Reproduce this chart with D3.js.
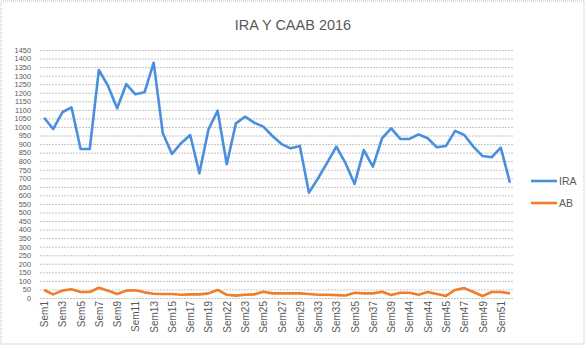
<!DOCTYPE html>
<html>
<head>
<meta charset="utf-8">
<script src="https://cdn.jsdelivr.net/npm/d3@7"></script>
<style>
  body { margin: 0; background: #fff; }
  text { font-family: "Liberation Sans", Arial, sans-serif; fill: #595959; }
</style>
</head>
<body>
<div id="chart"></div>
<script>
// weeks shown on the axis (every other one is labelled)
var weeks = ["Sem1","Sem2","Sem3","Sem4","Sem5","Sem6","Sem7","Sem8","Sem9","Sem10",
  "Sem11","Sem12","Sem13","Sem14","Sem15","Sem16","Sem17","Sem18","Sem19","Sem21",
  "Sem22","Sem22","Sem23","Sem24","Sem25","Sem26","Sem27","Sem28","Sem29","Sem30",
  "Sem33","Sem33","Sem33","Sem34","Sem35","Sem36","Sem37","Sem38","Sem39","Sem40",
  "Sem44","Sem44","Sem44","Sem44","Sem45","Sem46","Sem47","Sem48","Sem49","Sem50",
  "Sem51","Sem52"];

var ira = [1054,988,1086,1115,871,871,1333,1240,1109,1251,
  1191,1203,1376,963,842,905,953,729,986,1095,
  782,1021,1060,1025,1002,947,900,875,889,616,
  700,791,885,788,667,865,768,934,992,930,
  930,957,934,881,889,977,953,885,830,823,
  879,674];

var ab = [47,21,43,51,35,35,60,43,23,43,
  45,33,25,23,23,19,21,21,27,47,
  19,14,19,21,37,27,27,27,27,23,
  19,19,17,15,31,27,27,37,17,31,
  31,19,35,23,12,47,58,35,12,35,
  35,27];

var yTicks = d3.range(0, 1451, 50);
var seriesNames = ["IRA", "AB"];
var colors = ["#4a8fde", "#f07d2d"];

var W = 586, H = 349;
var svg = d3.select("#chart").append("svg")
  .attr("width", W).attr("height", H);

// outer dotted frame
svg.append("rect")
  .attr("x", 1).attr("y", 1).attr("width", 583).attr("height", 343)
  .attr("fill", "none").attr("stroke", "#bbb")
  .attr("stroke-dasharray", "1,1");

svg.append("text")
  .attr("x", 293).attr("y", 30)
  .attr("text-anchor", "middle")
  .style("font-size", "14.5px")
  .text("IRA Y CAAB 2016");

var x = d3.scalePoint()
  .domain(d3.range(weeks.length))
  .range([39.5, 514.5])
  .padding(0.5);

var y = d3.scaleLinear()
  .domain([0, 1450])
  .range([298, 50]);

// gridlines
svg.append("g")
  .selectAll("line")
  .data(yTicks)
  .enter()
  .append("line")
  .attr("x1", 40).attr("x2", 514)
  .attr("y1", function(d) { return y(d) + 0.5; })
  .attr("y2", function(d) { return y(d) + 0.5; })
  .attr("stroke", "#c4c4c4")
  .attr("stroke-dasharray", "2,1");

// Y axis (labels small so 50-steps don't collide)
var yAxis = svg.append("g")
  .attr("transform", "translate(40,0)")
  .call(d3.axisLeft(y).tickValues(yTicks).tickFormat(d3.format("d")).tickSize(0).tickPadding(9));
yAxis.select(".domain").remove();
yAxis.selectAll("text").style("font-size", "7.4px").style("fill", "#595959");

// X axis
var xAxis = svg.append("g")
  .attr("transform", "translate(0,298)")
  .call(d3.axisBottom(x)
    .tickValues(d3.range(0, weeks.length, 2))
    .tickFormat(function(i) { return weeks[i]; })
    .tickSize(0));
xAxis.select(".domain").remove();
xAxis.selectAll("text")
  .style("font-size", "10px").style("fill", "#595959")
  .attr("transform", "rotate(-90)")
  .attr("x", -3).attr("y", 0).attr("dy", "0.35em")
  .style("text-anchor", "end");

var line = d3.line()
  .x(function(d, i) { return x(i); })
  .y(function(d) { return y(d); });

[ira, ab].forEach(function(s, k) {
  svg.append("path")
    .datum(s)
    .attr("fill", "none")
    .attr("stroke", colors[k])
    .attr("stroke-width", 2.6)
    .attr("stroke-linejoin", "round")
    .attr("d", line);
});

// legend
var leg = svg.append("g");
seriesNames.forEach(function(n, k) {
  var ly = 181 + k * 22;
  leg.append("line")
    .attr("x1", 531).attr("x2", 557)
    .attr("y1", ly).attr("y2", ly)
    .attr("stroke", colors[k]).attr("stroke-width", 2.6);
  leg.append("text")
    .attr("x", 559).attr("y", ly).attr("dy", "0.35em")
    .style("font-size", "10.5px")
    .text(n);
});
</script>
</body>
</html>
